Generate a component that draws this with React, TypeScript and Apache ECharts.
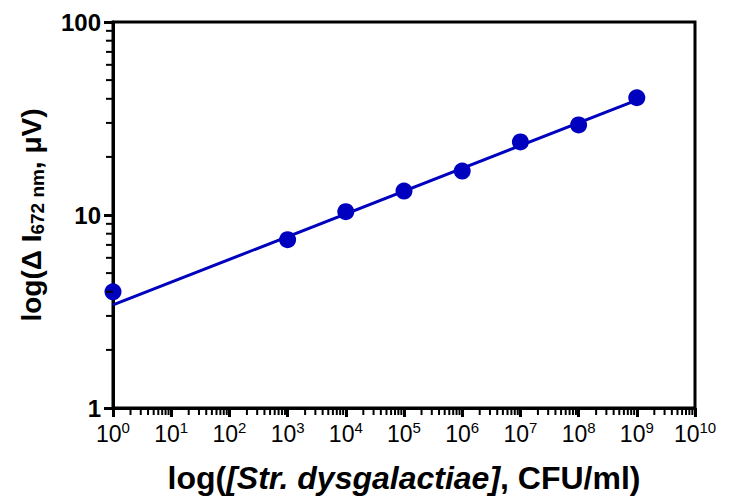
import React, { useEffect, useRef } from "react";
import * as echarts from "echarts";

const concentrations = [1, 1e3, 1e4, 1e5, 1e6, 1e7, 1e8, 1e9];
const signals = [4.0, 7.45, 10.4, 13.3, 16.9, 23.9, 29.3, 40.5];
const fitX = [1, 1e9];
const fitY = [3.42, 39.4];
const xTickExponents = [0, 1, 2, 3, 4, 5, 6, 7, 8, 9, 10];
const yTickLabels = ["1", "10", "100"];
const minorMultipliers = [2, 3, 4, 5, 6, 7, 8, 9];
const xDecades = [0, 1, 2, 3, 4, 5, 6, 7, 8, 9];
const yDecades = [0, 1];

const BLUE = "#0000BF";
const FONT = "'Liberation Sans', Arial, sans-serif";

export default function App() {
  const ref = useRef<HTMLDivElement>(null);
  useEffect(() => {
    if (!ref.current) return;
    const chart = echarts.init(ref.current, null, { renderer: "svg" });
    chart.setOption({
      animation: false,
      backgroundColor: "#fff",
      grid: {
        left: 113,
        right: 35,
        top: 22,
        bottom: 94,
        show: true,
        borderColor: "#000",
        borderWidth: 3,
        backgroundColor: "transparent",
      },
      xAxis: {
        type: "log",
        logBase: 10,
        min: 1,
        max: 1e10,
        interval: 1,
        splitNumber: 10,
        axisLine: { lineStyle: { color: "#000", width: 3 } },
        axisTick: { length: 9, lineStyle: { color: "#000", width: 3 } },
        splitLine: { show: false },
        minorTick: { show: false },
        axisLabel: {
          margin: 12,
          color: "#000",
          fontFamily: FONT,
          showMinLabel: true,
          showMaxLabel: true,
          interval: 0,
          formatter: (v: number) => {
            const e = Math.round(Math.log10(v));
            return xTickExponents.includes(e) ? `{b|10}{s|${e}}` : "";
          },
          rich: {
            b: { fontSize: 23, fontFamily: FONT, color: "#000", lineHeight: 28 },
            s: { fontSize: 15, fontFamily: FONT, color: "#000", lineHeight: 15, verticalAlign: "top" },
          },
        },
        name: "{n|log(}{i|[Str. dysgalactiae]}{n|, CFU/ml)}",
        nameLocation: "middle",
        nameGap: 54,
        nameTextStyle: {
          rich: {
            n: { fontSize: 32, fontWeight: "bold", fontFamily: FONT, color: "#000" },
            i: { fontSize: 32, fontWeight: "bold", fontStyle: "italic", fontFamily: FONT, color: "#000" },
          },
        },
      },
      yAxis: {
        type: "log",
        logBase: 10,
        min: 1,
        max: 100,
        interval: 1,
        axisLine: { lineStyle: { color: "#000", width: 3 } },
        axisTick: { length: 9, lineStyle: { color: "#000", width: 3 } },
        splitLine: { show: false },
        minorTick: { show: false },
        axisLabel: {
          margin: 12,
          color: "#000",
          fontSize: 24,
          fontWeight: "bold",
          fontFamily: FONT,
          formatter: (v: number) => {
            const s = String(Math.round(v));
            return yTickLabels.includes(s) ? s : "";
          },
        },
        name: "{n|log(Δ I}{s|672 nm}{n|, μV)}",
        nameLocation: "middle",
        nameRotate: 90,
        nameGap: 66,
        nameTextStyle: {
          rich: {
            n: { fontSize: 28, fontWeight: "bold", fontFamily: FONT, color: "#000", lineHeight: 32 },
            s: { fontSize: 19, fontWeight: "bold", fontFamily: FONT, color: "#000", lineHeight: 19, verticalAlign: "bottom" },
          },
        },
      },
      series: [
        {
          type: "custom",
          name: "minorTicks",
          clip: false,
          silent: true,
          z: 5,
          data: [[1, 1]],
          encode: { x: 0, y: 1 },
          renderItem: (params: any, api: any) => {
            const children: any[] = [];
            xDecades.forEach((e) => {
              minorMultipliers.forEach((m) => {
                const p = api.coord([m * Math.pow(10, e), 1]);
                children.push({
                  type: "line",
                  shape: { x1: p[0], y1: p[1], x2: p[0], y2: p[1] + 7 },
                  style: { stroke: "#000", lineWidth: 2 },
                });
              });
            });
            yDecades.forEach((e) => {
              minorMultipliers.forEach((m) => {
                const p = api.coord([1, m * Math.pow(10, e)]);
                children.push({
                  type: "line",
                  shape: { x1: p[0], y1: p[1], x2: p[0] - 7, y2: p[1] },
                  style: { stroke: "#000", lineWidth: 2 },
                });
              });
            });
            return { type: "group", children };
          },
        },
        {
          type: "line",
          name: "fit",
          data: fitX.map((x, i) => [x, fitY[i]]),
          showSymbol: false,
          symbol: "none",
          lineStyle: { color: BLUE, width: 3 },
          z: 3,
        },
        {
          type: "scatter",
          name: "data",
          data: concentrations.map((x, i) => [x, signals[i]]),
          symbol: "circle",
          symbolSize: 17,
          itemStyle: { color: BLUE, opacity: 1 },
          z: 4,
        },
      ],
    });
    return () => chart.dispose();
  }, []);
  return <div ref={ref} style={{ width: 730, height: 502, position: "absolute", left: 0, top: 0 }} />;
}
